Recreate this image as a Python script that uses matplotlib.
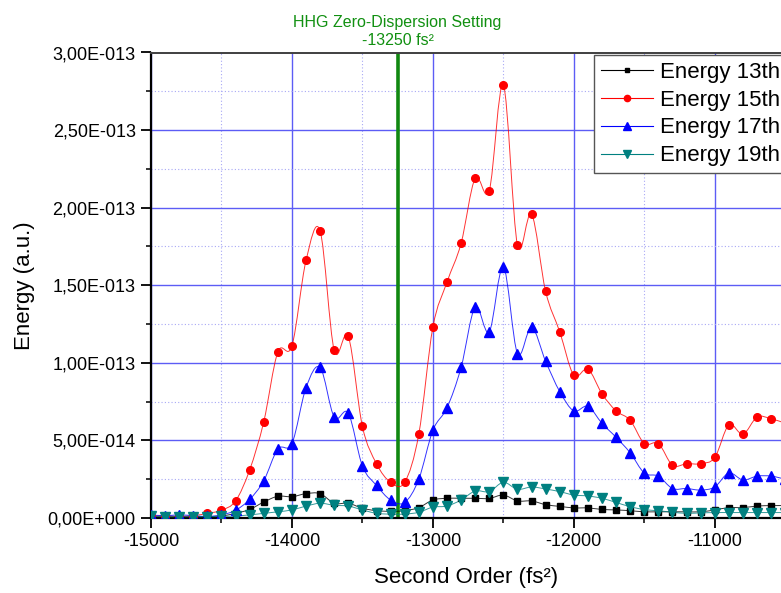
import numpy as np
import matplotlib.pyplot as plt
from matplotlib.path import Path
from matplotlib.patches import PathPatch
from matplotlib.lines import Line2D
from matplotlib.ticker import FuncFormatter, MultipleLocator

plt.rcParams['font.family'] = ['Liberation Sans', 'DejaVu Sans']
plt.rcParams['axes.unicode_minus'] = False

# Second order dispersion scan (fs^2)
gdd = np.arange(-15000, -10499, 100)

# Harmonic energies, units of 1e-14 a.u.
energy_13 = [0.1, 0.1, 0.1, 0.1, 0.1, 0.13, 0.3, 0.55, 1.03, 1.4,
             1.37, 1.57, 1.57, 0.95, 0.95, 0.63, 0.47, 0.43, 0.47, 0.67,
             1.16, 1.27, 1.27, 1.27, 1.26, 1.48, 1.1, 1.1, 0.86, 0.75,
             0.65, 0.65, 0.55, 0.52, 0.47, 0.4, 0.4, 0.4, 0.4, 0.4,
             0.52, 0.67, 0.67, 0.77, 0.8, 0.8]
energy_15 = [0.13, 0.13, 0.1, 0.15, 0.3, 0.5, 1.1, 3.1, 6.2, 10.7,
             11.1, 16.6, 18.5, 10.8, 11.7, 5.9, 3.5, 2.3, 2.3, 5.4,
             12.3, 15.2, 17.7, 21.9, 21.1, 27.9, 17.6, 19.6, 14.6, 12.0,
             9.2, 9.6, 8.0, 6.9, 6.3, 4.8, 4.8, 3.4, 3.5, 3.5,
             3.9, 6.0, 5.4, 6.5, 6.4, 6.1]
energy_17 = [0.2, 0.15, 0.2, 0.15, 0.1, 0.2, 0.5, 1.2, 2.4, 4.45,
             4.8, 8.4, 9.7, 6.5, 6.75, 3.35, 2.1, 1.16, 1.0, 2.5,
             5.65, 7.1, 9.7, 13.6, 12.0, 16.2, 10.6, 12.3, 10.1, 8.15,
             6.9, 7.2, 6.1, 5.2, 4.2, 2.9, 2.7, 1.9, 1.9, 1.8,
             2.0, 2.9, 2.45, 2.7, 2.7, 2.5]
energy_19 = [0.1, 0.08, 0.08, 0.08, 0.08, 0.1, 0.13, 0.2, 0.3, 0.4,
             0.52, 0.77, 0.95, 0.82, 0.77, 0.52, 0.3, 0.25, 0.25, 0.37,
             0.7, 0.77, 1.16, 1.74, 1.7, 2.3, 1.85, 2.0, 1.87, 1.7,
             1.48, 1.42, 1.27, 1.0, 0.73, 0.54, 0.47, 0.37, 0.3, 0.33,
             0.35, 0.35, 0.35, 0.35, 0.35, 0.35]

labels = ['Energy 13th', 'Energy 15th', 'Energy 17th', 'Energy 19th']
colors = ['#000000', '#ff0000', '#0000ff', '#008080']
markers = ['s', 'o', '^', 'v']
msizes = [4.5, 5.5, 6.5, 6.5]
zero_disp = -13250


def smooth_path(x, y):
    # Catmull-Rom through the points, written as cubic Bezier segments
    x = np.asarray(x, float)
    y = np.asarray(y, float)
    n = len(x)
    verts = [(x[0], y[0])]
    codes = [Path.MOVETO]
    for i in range(n - 1):
        i0 = max(i - 1, 0)
        i3 = min(i + 2, n - 1)
        c1 = (x[i] + (x[i + 1] - x[i0]) / 6, y[i] + (y[i + 1] - y[i0]) / 6)
        c2 = (x[i + 1] - (x[i3] - x[i]) / 6, y[i + 1] - (y[i3] - y[i]) / 6)
        verts += [c1, c2, (x[i + 1], y[i + 1])]
        codes += [Path.CURVE4] * 3
    return Path(verts, codes)


def sci_comma(v, pos):
    if v == 0:
        return '0,00E+000'
    exp = int(np.floor(np.log10(abs(v))))
    mant = v / 10 ** exp
    return f'{mant:.2f}'.replace('.', ',') + f'E{exp:+04d}'


fig = plt.figure(figsize=(7.81, 5.93), dpi=100)
ax = fig.add_axes([151 / 781, 75 / 593, 630 / 781, 465.5 / 593])

series = [energy_13, energy_15, energy_17, energy_19]
handles = []
for vals, lab, col, mk, ms in zip(series, labels, colors, markers, msizes):
    y = np.array(vals) * 1e-14
    ax.add_patch(PathPatch(smooth_path(gdd, y), fill=False, edgecolor=col,
                           lw=0.7, alpha=0.8, zorder=3))
    ax.plot(gdd, y, ls='none', marker=mk, ms=ms, color=col, zorder=4)
    handles.append(Line2D([], [], color=col, lw=0.8, marker=mk, ms=ms - 1))

ax.set_xlim(-15000, -10530)
ax.set_ylim(0, 3e-13)

ax.xaxis.set_major_locator(MultipleLocator(1000))
ax.xaxis.set_minor_locator(MultipleLocator(500))
ax.yaxis.set_major_locator(MultipleLocator(5e-14))
ax.yaxis.set_minor_locator(MultipleLocator(2.5e-14))
ax.yaxis.set_major_formatter(FuncFormatter(sci_comma))

ax.grid(which='major', color='#5c5cf5', lw=1.0, zorder=0)
ax.grid(which='minor', color='#a8a8f5', lw=0.8, ls=(0, (1, 2)), zorder=0)
ax.set_axisbelow(True)

ax.tick_params(which='major', direction='out', length=7, width=1.3,
               labelsize=13, colors='black', pad=4)
ax.tick_params(which='minor', direction='out', length=3.5, width=1.1)
for side in ['left', 'bottom']:
    ax.spines[side].set_linewidth(1.6)
ax.spines['top'].set_linewidth(1.4)
ax.spines['top'].set_color('#404040')
ax.spines['right'].set_visible(False)

ax.set_xlabel('Second Order (fs²)', fontsize=16, labelpad=12)
ax.set_ylabel('Energy (a.u.)', fontsize=16, labelpad=9)

# zero-dispersion marker
ax.axvline(zero_disp, color='#118811', lw=2.6, zorder=2)
ax.annotate(f'HHG Zero-Dispersion Setting\n{zero_disp} fs²',
            xy=(zero_disp, 1), xycoords=('data', 'axes fraction'),
            xytext=(0, 3), textcoords='offset points', ha='center',
            va='bottom', multialignment='center', color='#119011',
            fontsize=11.5, linespacing=1.3, annotation_clip=False)

leg = ax.legend(handles, labels, loc='upper left',
                bbox_to_anchor=(594 / 781, 1 - 55 / 593),
                bbox_transform=fig.transFigure, fontsize=16,
                fancybox=False, framealpha=1, edgecolor='#555555',
                handlelength=2.35, handletextpad=0.32, labelspacing=0.31,
                borderpad=0.3, borderaxespad=0)
leg.get_frame().set_linewidth(1.0)

fig.savefig('out.png', dpi=100)
